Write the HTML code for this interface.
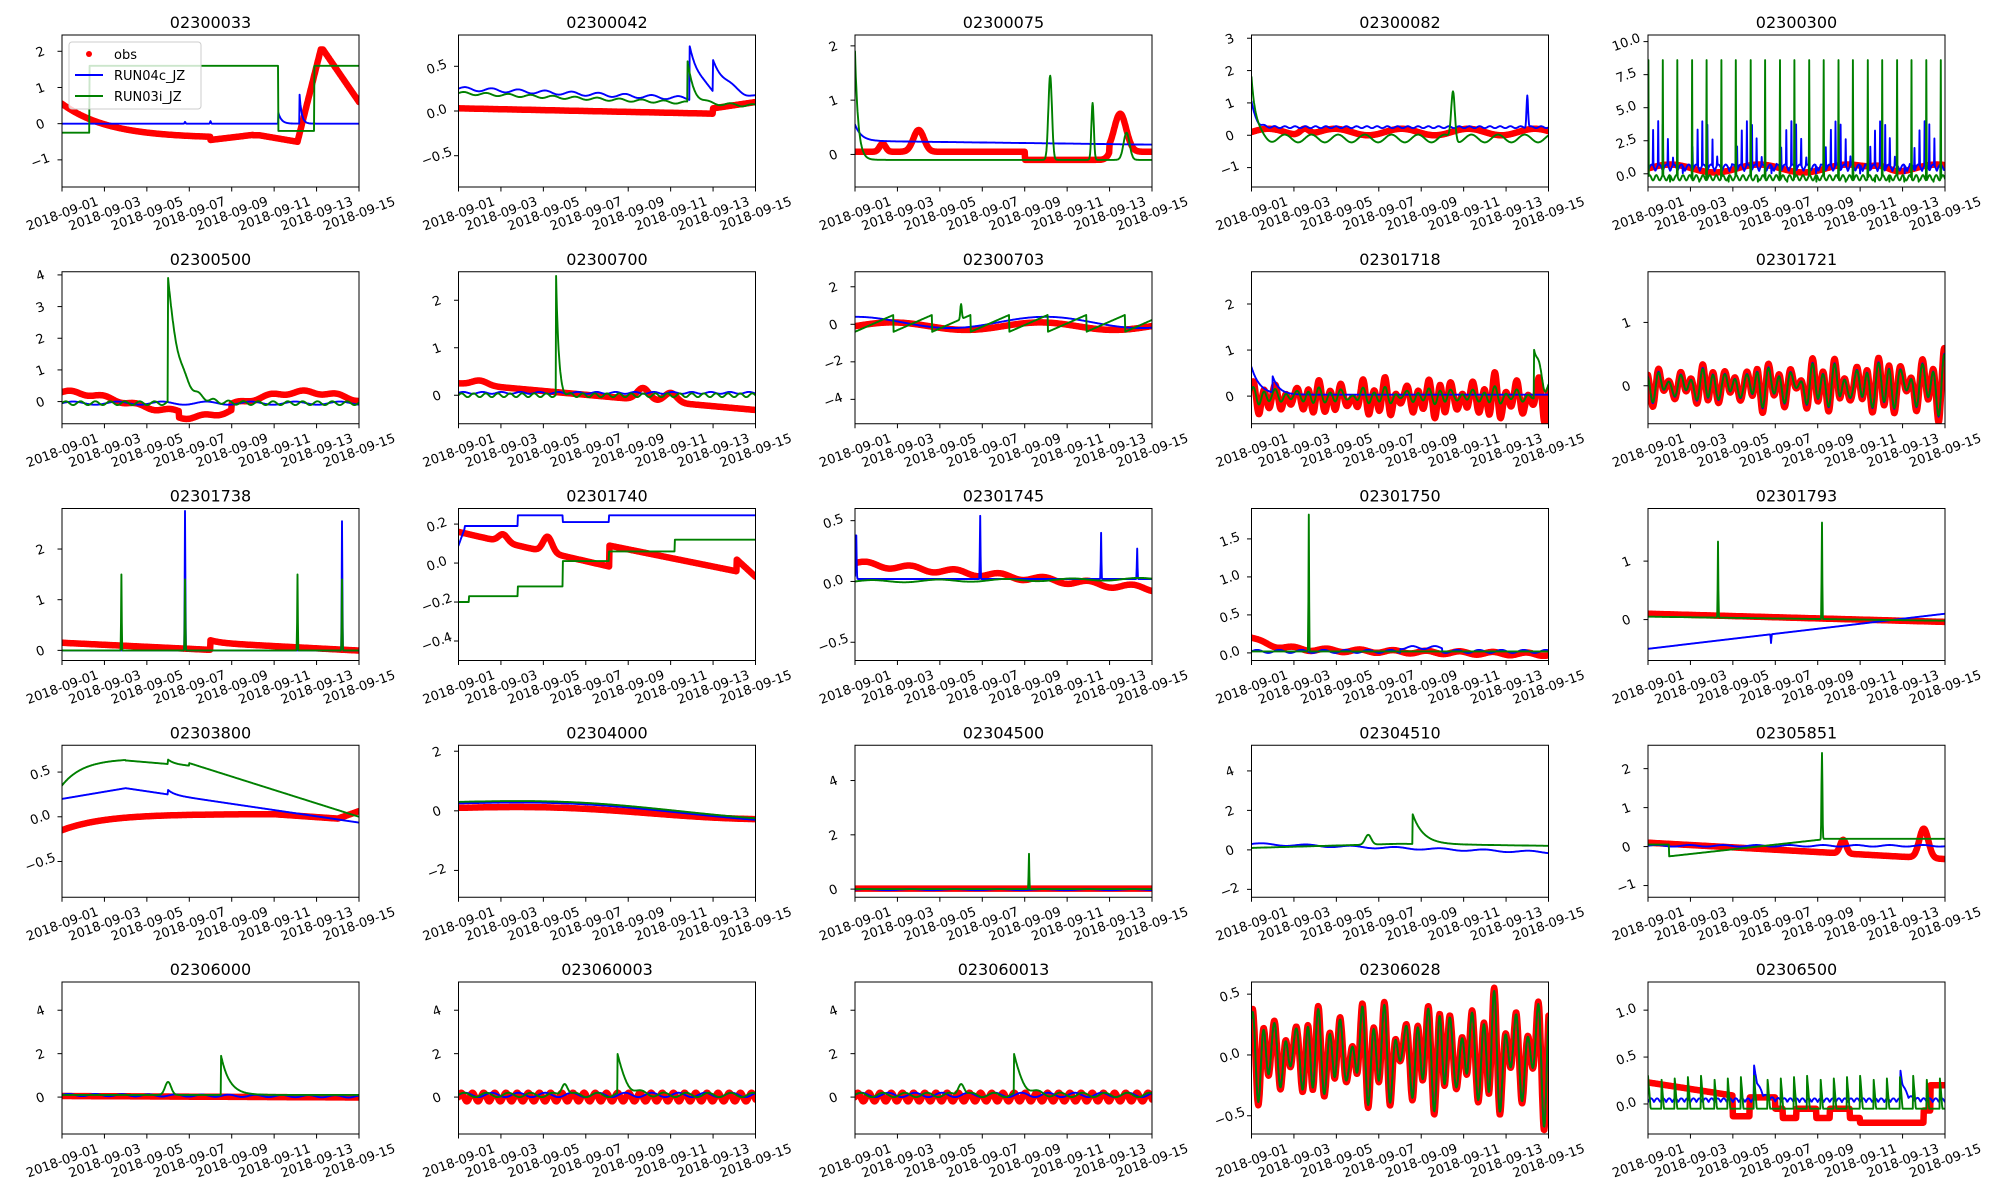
<!DOCTYPE html>
<html><head><meta charset="utf-8"><style>
html,body{margin:0;padding:0;background:#fff;}
svg{display:block;font-family:"DejaVu Sans","Liberation Sans",sans-serif;}
</style></head><body>
<svg id="s" width="2000" height="1200" xmlns="http://www.w3.org/2000/svg"></svg>
<script>
var S=document.getElementById('s');var out='';
function sp(t,t0,a,d){return t>=t0?a*Math.exp(-(t-t0)/d):0;}
function pk(t,t0,a,w){var x=(t-t0)/w;return a*Math.exp(-x*x);}
function osc(t,a,ph){var m=0.75+0.25*Math.sin(t*2.3+ph*5)+0.15*Math.sin(t*5.1);return a*m*Math.sin(2*Math.PI*(t*1.93+ph))+0.35*a*Math.sin(2*Math.PI*(t*0.97+ph*2));}
var P=[
{n:'02300033',y:[-1.75,2.45],tk:[-1,0,1,2],f:'0',leg:1,
 o:function(t){if(t<11.1)return t<7?0.55-0.95*(1-Math.exp(-t/2.2)):(t<9?-0.45+0.07*(t-7):(t<9.3?-0.32:-0.32-0.18*(t-9.3)/1.8));if(t<12.3)return -0.5+2.55*Math.min(1,(t-11.1)/1.1);return 2.05-1.45*(t-12.3)/1.7;},
 b:function(t){return sp(t,10.2,0.3,0.15)+sp(t,11.2,0.8,0.1)+pk(t,7,0.07,0.03)+pk(t,5.8,0.05,0.03);},
 g:function(t){return t<1.3?-0.25:(t<10.2?1.6:(t<11.9?-0.2:1.6));}},
{n:'02300042',y:[-0.85,0.85],tk:[-0.5,0.0,0.5],f:'1',
 o:function(t){return t<12?0.03-0.005*t:0.03+0.07*(t-12)/2;},
 b:function(t){return 0.25-0.01*t+sp(t,10.9,0.6,0.6)+sp(t,12,0.35,1)+0.02*Math.sin(t*5);},
 g:function(t){return 0.2-0.01*t+sp(t,10.8,0.45,0.3)+0.015*Math.sin(t*6);}},
{n:'02300075',y:[-0.6,2.2],tk:[0,1,2],f:'0',
 o:function(t){return 0.05+pk(t,3,0.4,0.35)-0.15*(t>8&&t<12)+pk(t,12.5,0.7,0.4)+pk(t,1.3,0.15,0.2);},
 b:function(t){return 0.25+sp(t,0,0.3,0.3)-0.005*t;},
 g:function(t){return -0.1+sp(t,0,2,0.15)+pk(t,9.2,1.55,0.12)+pk(t,11.2,1.05,0.08)+pk(t,12.8,0.5,0.2);}},
{n:'02300082',y:[-1.6,3.1],tk:[-1,0,1,2,3],f:'0',
 o:function(t){return 0.1+0.1*Math.sin(t*2)+pk(t,2.5,0.2,0.3);},
 b:function(t){return 0.25+sp(t,0,0.8,0.2)+pk(t,13,1,0.05)+0.03*Math.sin(t*13);},
 g:function(t){return -0.1+sp(t,0,1.9,0.2)+pk(t,9.5,1.5,0.12)+0.12*Math.sin(t*5);}},
{n:'02300300',y:[-1,10.5],tk:[0,2.5,5,7.5,10],f:'1',
 o:function(t){return 0.4+0.3*Math.sin(t*1.5)+pk(t,11,0.4,0.6);},
 b:function(t){var v=0.2+0.5*Math.abs(Math.sin(t*9));var p=(t*4.3)%1;if(p<0.08)v=4*(0.5+0.5*Math.sin(t*3));return v;},
 g:function(t){var p=(t*1.45)%1;if(p<0.03)return 8.6;if(p>0.5&&p<0.52)return -0.6;return -0.3+0.2*Math.sin(t*20);}},
{n:'02300500',y:[-0.7,4.1],tk:[0,1,2,3,4],f:'0',
 o:function(t){return 0.3*Math.cos(t*0.55)+0.05*Math.sin(t*4)-0.2*(t>5.5&&t<8);},
 b:function(t){return -0.05+0.05*Math.sin(t*3);},
 g:function(t){return -0.05+sp(t,5,3.9,0.55)+0.06*Math.sin(t*9);}},
{n:'02300700',y:[-0.6,2.6],tk:[0,1,2],f:'0',
 o:function(t){return 0.25-0.04*t+pk(t,1,0.1,0.5)+pk(t,8.7,0.25,0.4)+pk(t,10,0.2,0.4);},
 b:function(t){return 0.05+0.02*Math.sin(t*7);},
 g:function(t){return 0+sp(t,4.6,2.5,0.12)+0.04*Math.sin(t*11);}},
{n:'02300703',y:[-5.3,2.8],tk:[-4,-2,0,2],f:'0',
 o:function(t){return 0.2*Math.sin(t*0.9)-0.1;},
 b:function(t){return 0.3*Math.cos(t*0.7)+0.1;},
 g:function(t){var p=(t*0.55)%1;return -0.4+0.9*p+pk(t,5,0.8,0.05);}},
{n:'02301718',y:[-0.6,2.7],tk:[0,1,2],f:'0',
 o:function(t){return -0.05+osc(t,0.28+0.01*t,0.1);},
 b:function(t){return 0.03+sp(t,0,0.6,0.4)+sp(t,1,0.35,0.3);},
 g:function(t){return 0+osc(t,0.15,0.1)+sp(t,13.3,1.1,0.4);}},
{n:'02301721',y:[-0.6,1.8],tk:[0,1],f:'0',
 o:function(t){return 0+osc(t,0.23+0.015*t,0.3);},
 b:function(t){return 0+osc(t,0.19+0.013*t,0.3);},
 g:function(t){return 0+osc(t,0.18+0.013*t,0.3);}},
{n:'02301738',y:[-0.2,2.8],tk:[0,1,2],f:'0',
 o:function(t){return t<7?0.15-0.02*t:0.15-0.022*(t-7)+sp(t,7,0.05,0.5);},
 b:function(t){return 0+pk(t,5.8,2.75,0.02)+pk(t,13.2,2.55,0.02);},
 g:function(t){return 0+pk(t,2.8,1.5,0.02)+pk(t,5.8,1.4,0.02)+pk(t,11.1,1.5,0.02)+pk(t,13.2,1.4,0.02);}},
{n:'02301740',y:[-0.5,0.28],tk:[-0.4,-0.2,0.0,0.2],f:'1',
 o:function(t){var v=0.16-0.025*t+pk(t,2.1,0.04,0.3)+pk(t,4.2,0.08,0.3);if(t>7.1)v=0.09-0.02*(t-7.1)-0.002*(t-7.1);if(t>13.1)v=0.02-0.09*(t-13.1)/0.9;return v;},
 b:function(t){return t<0.3?0.09+0.3*t:(t<2.8?0.19:(t<4.9?0.245:(t<7.1?0.21:0.245)));},
 g:function(t){return t<0.5?-0.2:(t<2.8?-0.17:(t<4.9?-0.12:(t<7.1?0.01:(t<10.2?0.06:(t<13.1?0.12:0.12)))));}},
{n:'02301745',y:[-0.65,0.6],tk:[-0.5,0.0,0.5],f:'1',
 o:function(t){return 0.15-0.015*t+0.02*Math.sin(t*3);},
 b:function(t){return 0.02+pk(t,0.05,0.4,0.03)+pk(t,5.9,0.52,0.02)+pk(t,11.6,0.38,0.02)+pk(t,13.3,0.25,0.02);},
 g:function(t){return 0.02*t/14+0.01*Math.sin(t*2);}},
{n:'02301750',y:[-0.1,1.9],tk:[0,0.5,1,1.5],f:'1',
 o:function(t){return 0.05+sp(t,0,0.15,1)-0.005*t+0.02*Math.sin(t*4);},
 b:function(t){return 0.02+0.02*Math.sin(t*6)+(t>7&&t<9?0.05:0);},
 g:function(t){return 0.02+pk(t,2.7,1.8,0.02);}},
{n:'02301793',y:[-0.7,1.9],tk:[0,1],f:'0',
 o:function(t){return 0.1-0.01*t;},
 b:function(t){return -0.5+0.6*t/14-pk(t,5.8,0.15,0.02);},
 g:function(t){return 0.05-0.005*t+pk(t,3.3,1.3,0.02)+pk(t,8.2,1.65,0.02);}},
{n:'02303800',y:[-0.9,0.8],tk:[-0.5,0.0,0.5],f:'1',
 o:function(t){return -0.15+0.18*(1-Math.exp(-t/2))+(t>10?-0.05*(t-10)/3:0)+(t>13?0.1*(t-13):0);},
 b:function(t){return t<3?0.2+0.04*t:0.32-0.035*(t-3)+sp(t,5,0.05,0.3);},
 g:function(t){return t<3?0.35+0.3*(1-Math.exp(-t)):(t<6?0.63-0.02*(t-3)+sp(t,5,0.05,0.3):0.6-0.075*(t-6));}},
{n:'02304000',y:[-2.9,2.2],tk:[-2,0,2],f:'0',
 o:function(t){return 0.1+0.1*Math.sin(t*0.35)-0.02*t;},
 b:function(t){return 0.25+0.15*Math.sin(t*0.3)-0.03*t;},
 g:function(t){return 0.3+0.15*Math.sin(t*0.3)-0.03*t;}},
{n:'02304500',y:[-0.3,5.3],tk:[0,2,4],f:'0',
 o:function(t){return 0.02;},b:function(t){return -0.02+0.02*Math.sin(t*3);},
 g:function(t){return 0+pk(t,8.2,1.3,0.02);}},
{n:'02304510',y:[-2.4,5.3],tk:[-2,0,2,4],f:'0',
 o:null,b:function(t){return 0.3-0.03*t+0.05*Math.sin(t*3);},
 g:function(t){return 0.1+0.03*t-0.045*Math.max(0,t-7)+pk(t,5.5,0.5,0.2)+sp(t,7.6,1.5,0.5);}},
{n:'02305851',y:[-1.3,2.6],tk:[-1,0,1,2],f:'0',
 o:function(t){return 0.1-0.03*t+pk(t,9.2,0.35,0.2)+pk(t,13,0.75,0.3);},
 b:function(t){return 0.02+0.02*Math.sin(t*4);},
 g:function(t){return (t<1?0.05:(t<8.2?-0.25+0.06*(t-1):0.2))+pk(t,8.2,2.2,0.03);}},
{n:'02306000',y:[-1.7,5.3],tk:[0,2,4],f:'0',
 o:function(t){return 0.05-0.005*t;},b:function(t){return 0.1-0.005*t+0.05*Math.sin(t*5);},
 g:function(t){return 0.1+pk(t,5,0.6,0.2)+sp(t,7.5,1.8,0.4);}},
{n:'023060003',y:[-1.7,5.3],tk:[0,2,4],f:'0',
 o:function(t){return 0+0.2*Math.sin(t*2*Math.PI*1.9);},b:function(t){return 0.1+0.1*Math.sin(t*5);},
 g:function(t){return 0.1+0.1*Math.sin(t*6)+pk(t,5,0.6,0.2)+sp(t,7.5,1.8,0.4);}},
{n:'023060013',y:[-1.7,5.3],tk:[0,2,4],f:'0',
 o:function(t){return 0+0.2*Math.sin(t*2*Math.PI*1.9);},b:function(t){return 0.1+0.1*Math.sin(t*5);},
 g:function(t){return 0.1+0.1*Math.sin(t*6)+pk(t,5,0.6,0.2)+sp(t,7.5,1.8,0.4);}},
{n:'02306028',y:[-0.65,0.6],tk:[-0.5,0.0,0.5],f:'1',
 o:function(t){return osc(t,0.3+0.01*t,0.15);},b:function(t){return osc(t,0.28+0.01*t,0.15);},
 g:function(t){return osc(t,0.28+0.01*t,0.15);}},
{n:'02306500',y:[-0.32,1.3],tk:[0.0,0.5,1.0],f:'1',
 o:function(t){if(t<4)return 0.23-0.035*t;if(t<4.8)return -0.13;if(t<6)return 0.07;if(t<10)return -0.05-0.1*(Math.sin(t*4)>0.3);if(t<13)return -0.2;return t<13.3?-0.07:0.2;},
 b:function(t){return 0.02+0.04*Math.abs(Math.sin(t*11))+sp(t,5,0.35,0.25)+sp(t,11.9,0.3,0.2);},
 g:function(t){var p=(t*1.6)%1;return -0.05+(p<0.2?0.35*(1-p/0.2):0);}}
];
function fmt(v,f){return (f=='1'?v.toFixed(1):String(v)).replace('-','\u2212');}
var dates=['2018-09-01','2018-09-03','2018-09-05','2018-09-07','2018-09-09','2018-09-11','2018-09-13','2018-09-15'];
for(var k=0;k<P.length;k++){
 var p=P[k],c=k%5,r=Math.floor(k/5);
 var L=62+c*396.5,T=35+r*236.75,W=297,H=152;
 var X=function(t){return L+t/14*W;};var Y=function(v){return T+H-(v-p.y[0])/(p.y[1]-p.y[0])*H;};
 out+='<defs><clipPath id="c'+k+'"><rect x="'+L+'" y="'+T+'" width="'+W+'" height="'+H+'"/></clipPath></defs>';
 out+='<text x="'+(L+W/2)+'" y="'+(T-7)+'" font-size="16" text-anchor="middle">'+p.n+'</text>';
 out+='<g clip-path="url(#c'+k+')">';
 var ser=[[p.o,'#ff0000',6.5],[p.b,'#0000ff',1.9],[p.g,'#008000',1.9]];
 for(var s=0;s<3;s++){if(!ser[s][0])continue;var d='';
  for(var i=0;i<=700;i++){var t=i/700*14;var v=ser[s][0](t);d+=(i?'L':'M')+X(t).toFixed(1)+' '+Y(v).toFixed(1);}
  out+='<path d="'+d+'" fill="none" stroke="'+ser[s][1]+'" stroke-width="'+ser[s][2]+'" stroke-linejoin="round" stroke-linecap="round"/>';}
 out+='</g>';
 out+='<rect x="'+L+'" y="'+T+'" width="'+W+'" height="'+H+'" fill="none" stroke="#000" stroke-width="1"/>';
 for(var j=0;j<p.tk.length;j++){var yy=Y(p.tk[j]);
  out+='<line x1="'+(L-4.5)+'" x2="'+L+'" y1="'+yy+'" y2="'+yy+'" stroke="#000"/>';
  var cx=L-22;
  out+='<text x="'+cx+'" y="'+(yy+5)+'" font-size="13" text-anchor="middle" transform="rotate(-20 '+cx+' '+yy+')">'+fmt(p.tk[j],p.f)+'</text>';}
 for(var j=0;j<8;j++){var xx=L+j*W/7;
  out+='<line x1="'+xx+'" x2="'+xx+'" y1="'+(T+H)+'" y2="'+(T+H+4.5)+'" stroke="#000"/>';
  var cy=T+H+26;
  out+='<text x="'+xx+'" y="'+(cy+5)+'" font-size="13" text-anchor="middle" transform="rotate(-20 '+xx+' '+cy+')">'+dates[j]+'</text>';}
 if(p.leg){out+='<rect x="'+(L+7)+'" y="'+(T+7)+'" width="132" height="67" rx="3" fill="#fff" fill-opacity="0.8" stroke="#ccc"/>'+
  '<circle cx="'+(L+27)+'" cy="'+(T+19)+'" r="3" fill="red"/><text x="'+(L+52)+'" y="'+(T+24)+'" font-size="13">obs</text>'+
  '<line x1="'+(L+13)+'" x2="'+(L+41)+'" y1="'+(T+40)+'" y2="'+(T+40)+'" stroke="blue" stroke-width="1.9"/><text x="'+(L+52)+'" y="'+(T+45)+'" font-size="13">RUN04c_JZ</text>'+
  '<line x1="'+(L+13)+'" x2="'+(L+41)+'" y1="'+(T+61)+'" y2="'+(T+61)+'" stroke="green" stroke-width="1.9"/><text x="'+(L+52)+'" y="'+(T+66)+'" font-size="13">RUN03i_JZ</text>';}
}
S.innerHTML=out;
</script>
</body></html>
